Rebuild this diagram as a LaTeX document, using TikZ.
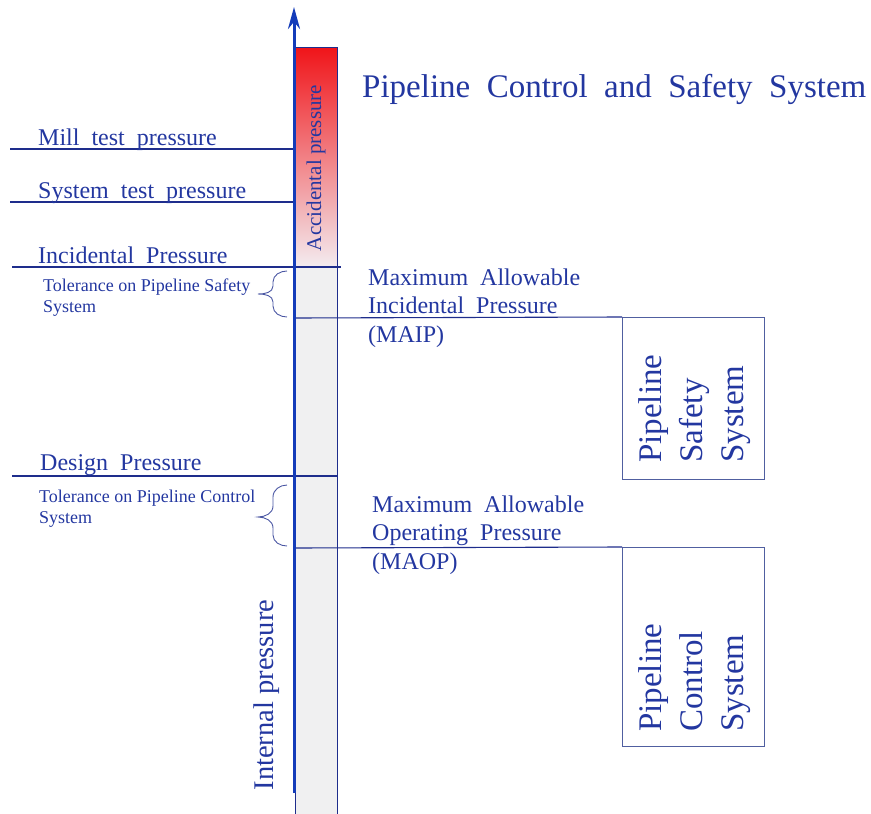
\documentclass[tikz,border=0pt]{standalone}
\usepackage{fontspec}
\setmainfont{Liberation Serif}
\newfontfamily\widefont[WordSpace=1.15]{Liberation Serif}
\newfontfamily\titlefont[WordSpace=2.0]{Liberation Serif}
\usetikzlibrary{arrows.meta}
\definecolor{txtblue}{RGB}{35,55,160}
\definecolor{lnblue}{RGB}{30,45,140}
\definecolor{axblue}{RGB}{20,60,185}
\definecolor{boxblue}{RGB}{80,95,160}
\definecolor{bargray}{RGB}{240,240,241}
\tikzset{
  lbl/.style={anchor=base west, inner sep=0pt, text=txtblue, font=\widefont\fontsize{24}{28.5}\selectfont},
  tol/.style={anchor=base west, inner sep=0pt, text=txtblue, font=\fontsize{18}{21}\selectfont},
  rot/.style={rotate=90, inner sep=0pt, text=txtblue},
  level/.style={draw=lnblue, line width=1.1pt},
  brc/.style={draw=lnblue!80, line width=0.9pt},
  sysbox/.style={draw=boxblue, line width=1.1pt},
}
\begin{document}
\begin{tikzpicture}[x=1pt,y=-1pt]
\useasboundingbox (0,0) rectangle (871,814);
% bar
\shade[top color={rgb,255:red,240;green,20;blue,25}, middle color={rgb,255:red,245;green,140;blue,150}, bottom color={rgb,255:red,243;green,236;blue,240}] (295,47) rectangle (337,267);
\fill[bargray] (295,267) rectangle (337,814);
\draw[draw=lnblue, line width=1pt] (295,814) -- (295,47) -- (337,47) -- (337,814);
% named points
\coordinate (mtL) at (10,149);   \coordinate (mtR) at (294,149);
\coordinate (stL) at (10,202);   \coordinate (stR) at (294,202);
\coordinate (ipL) at (12,267);   \coordinate (ipR) at (341,267);
\coordinate (dpL) at (12,476);   \coordinate (dpR) at (337,476);
\coordinate (maipL) at (294,318);
\coordinate (maopL) at (294,548);
\coordinate (axB) at (294,793);  \coordinate (axT) at (294,7);
% system boxes
\node[sysbox, minimum width=142pt, minimum height=162pt, anchor=north west, inner sep=0pt] (psb) at (622,317) {};
\node[sysbox, minimum width=142pt, minimum height=199pt, anchor=north west, inner sep=0pt] (pcb) at (622,547) {};
% level lines
\draw[level] (mtL) -- (mtR);
\draw[level] (stL) -- (stR);
\draw[level] (ipL) -- (ipR);
\draw[level] (dpL) -- (dpR);
\draw[level] (maipL) -- (psb.north west);
\draw[level] (maopL) -- (pcb.north west);
% axis
\draw[draw=axblue, line width=3pt, -{Stealth[length=22pt,width=12pt]}] (axB) -- (axT);
% braces
\draw[brc] (287,271) to[out=180,in=90] (273,282) -- (273,286) to[out=-90,in=0] (258,294) to[out=0,in=90] (273,302) -- (273,306) to[out=-90,in=180] (287,317);
\draw[brc] (287,485) to[out=180,in=90] (273,497) -- (273,506) to[out=-90,in=0] (258,517) to[out=0,in=90] (273,528) -- (273,535) to[out=-90,in=180] (287,546);
% labels
\node[anchor=base west, inner sep=0pt, text=txtblue, font=\titlefont\fontsize{33}{38}\selectfont] (title) at (362,97) {Pipeline Control and Safety System};
\node[lbl] (mill) at (38,145) {Mill test pressure};
\node[lbl] (syst) at (38,198) {System test pressure};
\node[lbl] (incp) at (38,263) {Incidental Pressure};
\node[lbl] (desp) at (40,470) {Design Pressure};
\node[tol] (tols) at (43,291) {\begin{tabular}[t]{@{}l@{}}Tolerance on Pipeline Safety\\System\end{tabular}};
\node[tol] (tolc) at (39,502) {\begin{tabular}[t]{@{}l@{}}Tolerance on Pipeline Control\\System\end{tabular}};
\node[lbl] (maip) at (368,285) {\begin{tabular}[t]{@{}l@{}}Maximum Allowable\\Incidental Pressure\\(MAIP)\end{tabular}};
\node[lbl] (maop) at (372,512) {\begin{tabular}[t]{@{}l@{}}Maximum Allowable\\Operating Pressure\\(MAOP)\end{tabular}};
\node[rot, font=\fontsize{21}{25}\selectfont] (acc) at (316,168) {Accidental pressure};
\node[rot, font=\fontsize{28.5}{34}\selectfont] (intp) at (267,695) {Internal pressure};
\node[rot, anchor=base west, font=\fontsize{33}{41}\selectfont] (pss) at (661,463) {\begin{tabular}[t]{@{}l@{}}Pipeline\\Safety\\System\end{tabular}};
\node[rot, anchor=base west, font=\fontsize{33}{41}\selectfont] (pcs) at (661,732) {\begin{tabular}[t]{@{}l@{}}Pipeline\\Control\\System\end{tabular}};
\end{tikzpicture}
\end{document}
